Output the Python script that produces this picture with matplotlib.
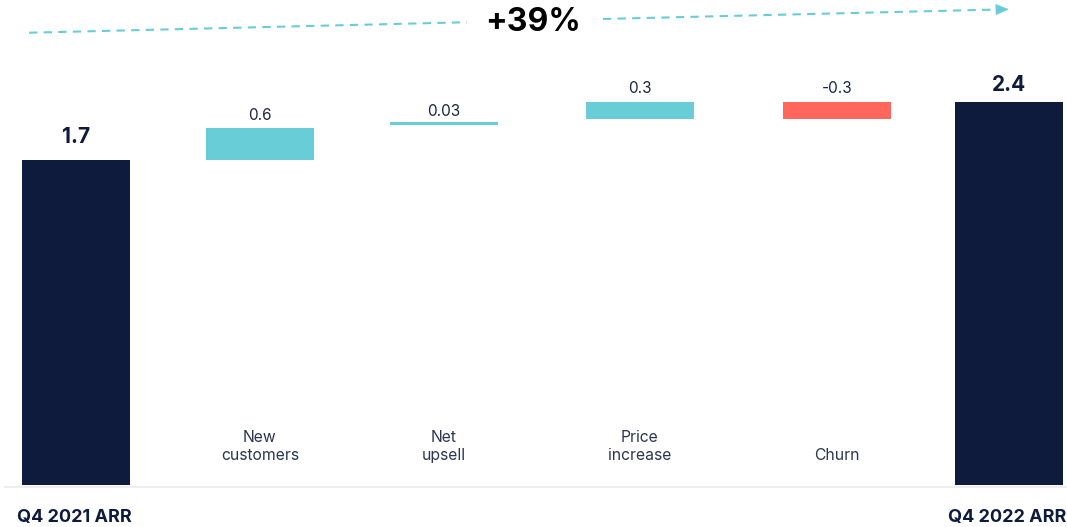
import matplotlib
matplotlib.use("Agg")
import matplotlib.pyplot as plt
import numpy as np

# ---- data ----
categories = ["Q4 2021 ARR", "New\ncustomers", "Net\nupsell", "Price\nincrease", "Churn", "Q4 2022 ARR"]
values = [1.7, 0.6, 0.03, 0.3, -0.3, 2.4]
kinds = ["total", "up", "up", "up", "down", "total"]
# bar extents as drawn in the picture (chart units, baseline = 0)
bar_bottom = [0.0, 2.035, 2.258, 2.293, 2.293, 0.0]
bar_top = [2.035, 2.237, 2.274, 2.400, 2.400, 2.400]
growth_label = "+39%"

# ---- layout / style ----
x_pos = [0.0, 1.0, 2.0, 3.065, 4.136, 5.07]
bar_width = 0.587
label_gap_px = [17, 8, 6, 9, 9, 11]
colors = {"total": "#0E1B3D", "up": "#68CDD6", "down": "#FF675C"}
text_col = "#1B2542"
font = ["Inter", "DejaVu Sans"]

fig = plt.figure(figsize=(10.67, 5.27), dpi=100)
ax = fig.add_axes([0, 0, 1, 1])
ax.set_xlim(-0.413, 5.386)
ax.set_ylim(-0.263, 3.039)
ax.axis("off")

# baseline
ax.plot([-0.391, 5.386], [-0.0094, -0.0094], color="#EEEEEE", lw=1.5,
        solid_capstyle="butt", zorder=1)

for i, (cat, v, k) in enumerate(zip(categories, values, kinds)):
    x = x_pos[i]
    ax.bar(x, bar_top[i] - bar_bottom[i], bottom=bar_bottom[i], width=bar_width,
           color=colors[k], zorder=2, linewidth=0)
    bold = k == "total"
    ax.annotate(f"{v:g}", (x, bar_top[i]), xytext=(0, label_gap_px[i] * 0.72),
                textcoords="offset points", ha="center", va="baseline",
                fontsize=15 if bold else 11, fontweight="bold" if bold else "normal",
                color=text_col if not bold else colors["total"], family=font)
    if bold:
        ax.text(x - 0.01, -0.232, cat, ha="center", va="baseline", fontsize=13,
                fontweight="bold", color=colors["total"], family=font)
    else:
        ax.text(x, 0.135, cat, ha="center", va="bottom", fontsize=11.3,
                color="#2B3553", family=font, linespacing=1.3)

# growth arrow (dashed, with gap for label)
x0, y0 = -0.255, 2.834
x1, y1 = x_pos[-1], 2.981
def yl(x):
    return y0 + (y1 - y0) * (x - x0) / (x1 - x0)
gap_l, gap_r = 2.125, 2.864
line_col = "#68CDD6"
ax.plot([x0, gap_l], [y0, yl(gap_l)], color=line_col, lw=1.5, dashes=(4, 3), zorder=3)
head_start = x1 - 12 / 184
ax.plot([gap_r, head_start], [yl(gap_r), yl(head_start)], color=line_col, lw=1.5,
        dashes=(4, 3), zorder=3)
ax.annotate("", xy=(x1, y1), xytext=(head_start, yl(head_start)),
            arrowprops=dict(arrowstyle="-|>,head_length=0.86,head_width=0.36",
                            mutation_scale=10, color=line_col, lw=0.5,
                            shrinkA=0, shrinkB=0))
ax.text(2.486, 2.846, growth_label, ha="center", va="baseline", fontsize=23,
        fontweight="bold", color="#000000", family=font)

fig.savefig("out.png", dpi=100)
